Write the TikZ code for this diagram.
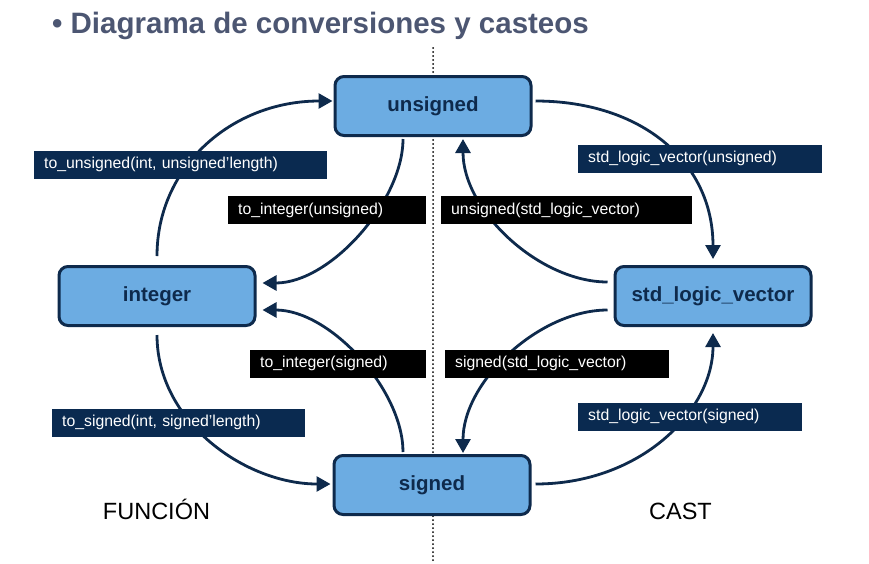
\documentclass[tikz,border=0pt]{standalone}
\usepackage{fontspec}
\setmainfont{Liberation Sans}
\usetikzlibrary{positioning}
\usetikzlibrary{calc}
\usetikzlibrary{arrows.meta}
\usepackage{xcolor}

\definecolor{boxblue}{RGB}{108,172,226}
\definecolor{navy}{RGB}{14,42,76}
\definecolor{lblnavy}{RGB}{10,42,80}
\definecolor{titlegray}{RGB}{76,86,114}

\begin{document}
\begin{tikzpicture}[x=1pt,y=-1pt,
    typebox/.style={draw=navy, line width=3pt, fill=boxblue, rounded corners=9pt,
        minimum width=196pt, minimum height=59pt, text=navy,
        font=\fontsize{20.5}{24}\selectfont\bfseries},
    conv/.style={draw=navy, line width=2.8pt, -{Triangle[length=14pt,width=15pt]}},
    lbl/.style={anchor=west, text=white, inner xsep=10pt, inner ysep=0pt,
        minimum height=28pt, align=left, font=\fontsize{15.8}{18}\selectfont},
    fnlbl/.style={lbl, fill=lblnavy},
    castlbl/.style={lbl, fill=black}]
            \useasboundingbox (0,0) rectangle (869,563);

            % Title
            \node[anchor=base west, inner sep=0pt, text=titlegray,
                  font=\fontsize{29.5}{34}\selectfont\bfseries] (title) at (52,33)
                  {\textbullet\ Diagrama de conversiones y casteos};

            % Dotted separator
            \draw[line width=2pt, line cap=round, dash pattern=on 0pt off 4pt] (433,48) -- (433,563);

            % Type boxes
            \node[typebox] (unsigned) at (433,106) {unsigned};
            \node[typebox] (integer) at (157,296) {integer};
            \node[typebox] (slv) at (713,296) {std\_logic\_vector};
            \node[typebox] (signed) at (432,485) {signed};

            % Functions (left side)
            \draw[conv] ($(integer.north)+(0,-9)$) .. controls +(0,-90) and +(-100,0) .. ($(unsigned.west)+(-1,-5)$);
            \draw[conv] ($(unsigned.south)+(-30,2)$) .. controls +(0,62) and +(68,0) .. ($(integer.east)+(6,-13)$);
            \draw[conv] ($(integer.south)+(0,8)$) .. controls +(0,87) and +(-85,0) .. ($(signed.west)+(-2,-1)$);
            \draw[conv] ($(signed.north)+(-29,-2)$) .. controls +(0,-62) and +(68,0) .. ($(integer.east)+(6,14)$);

            % Casts (right side)
            \draw[conv] ($(unsigned.east)+(3,-5)$) .. controls +(105,0) and +(0,-98) .. ($(slv.north)+(0,-6)$);
            \draw[conv] ($(slv.west)+(-6,-14)$) .. controls +(-68,0) and +(0,72) .. ($(unsigned.south)+(30,2)$);
            \draw[conv] ($(slv.west)+(-6,14)$) .. controls +(-68,0) and +(0,-72) .. ($(signed.north)+(31,-1)$);
            \draw[conv] ($(signed.east)+(4,-1)$) .. controls +(105,0) and +(0,78) .. ($(slv.south)+(0,6)$);

            % Labels
            \node[fnlbl, text width=273pt] (lbltouns) at (34,164.5) {to\_unsigned(int, unsigned’length)};
            \node[castlbl, text width=178pt] (lbltointu) at (228,210) {to\_integer(unsigned)};
            \node[fnlbl, text width=224pt] (lblslvu) at (578,158.5) {std\_logic\_vector(unsigned)};
            \node[castlbl, text width=231pt] (lbluns) at (441,210) {unsigned(std\_logic\_vector)};
            \node[castlbl, text width=156pt] (lbltoints) at (250,363.5) {to\_integer(signed)};
            \node[castlbl, text width=204pt] (lblsig) at (445,363.5) {signed(std\_logic\_vector)};
            \node[fnlbl, text width=233pt] (lbltosig) at (52,422.5) {to\_signed(int, signed’length)};
            \node[fnlbl, text width=204pt] (lblslvs) at (578,416.5) {std\_logic\_vector(signed)};

            % Side captions
            \node[anchor=base, font=\fontsize{23.5}{28}\selectfont] (funcion) at (156.5,519) {FUNCIÓN};
            \node[anchor=base, font=\fontsize{23.5}{28}\selectfont] (cast) at (680.5,519) {CAST};
        \end{tikzpicture}
\end{document}
